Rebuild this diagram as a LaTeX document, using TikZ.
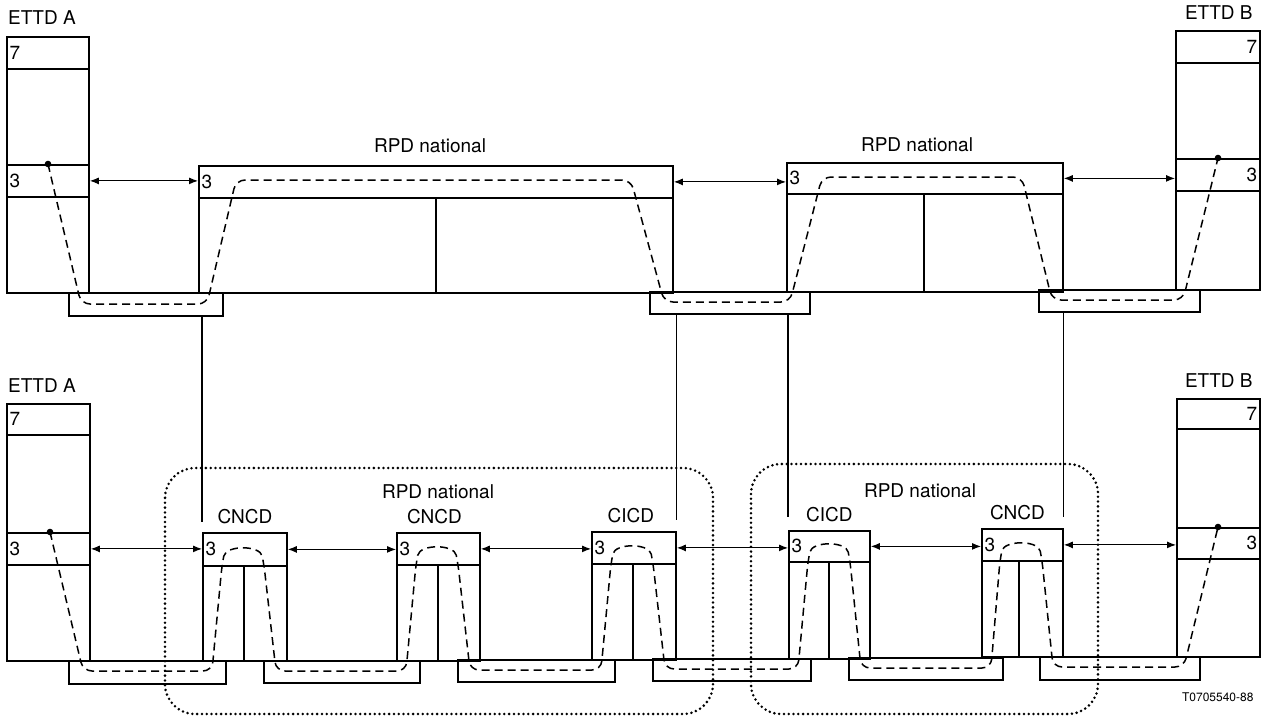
\documentclass[tikz,border=0pt]{standalone}
\usepackage{fontspec}
\setmainfont{TeX Gyre Heros}
\usetikzlibrary{arrows.meta}
\newcommand\lblsize{\fontsize{19}{21}\selectfont}

\begin{document}
\begin{tikzpicture}[x=1pt,y=-1pt,
  layer/.style={draw, line width=1.8pt, inner sep=0pt, anchor=north west},
  num/.style={font=\lblsize},
  tag/.style={font=\lblsize, inner sep=0pt},
  arr/.style={<->, >={Latex[length=9pt,width=7pt]}, line width=1.1pt},
  trail/.style={line width=1.5pt, dash pattern=on 8pt off 5pt, rounded corners=9pt},
  zone/.style={line width=2.8pt, line cap=round, dash pattern=on 0pt off 4.8pt, rounded corners=30pt},
  riser/.style={line width=1.1pt}]
\useasboundingbox (0,0) rectangle (1261,720);

% upper chain: ETTD A - RPD - RPD - ETTD B
\node[layer, minimum width=82pt, minimum height=256pt] (tA) at (6,36) {};
\node[layer, minimum width=82pt, minimum height=32pt, label={[num,anchor=west]west:7}] (tA7) at (6,36) {};
\node[layer, minimum width=82pt, minimum height=32pt, label={[num,anchor=west]west:3}] (tA3) at (6,164) {};
\node[tag, anchor=south west] (tAtag) at ([xshift=2pt,yshift=11pt]tA.north west) {ETTD A};

\node[layer, minimum width=474pt, minimum height=127pt] (tR1) at (198,165) {};
\node[layer, minimum width=474pt, minimum height=32pt, label={[num,anchor=west]west:3}] (tR1h) at (198,165) {};
\draw[line width=1.6pt] ([xshift=238pt]tR1h.south west) -- ([xshift=238pt]tR1.south west);
\node[tag] (tR1tag) at (430,146) {RPD national};

\node[layer, minimum width=276pt, minimum height=129pt] (tR2) at (786,162) {};
\node[layer, minimum width=276pt, minimum height=31pt, label={[num,anchor=west]west:3}] (tR2h) at (786,162) {};
\draw[line width=1.6pt] ([xshift=138pt]tR2h.south west) -- ([xshift=138pt]tR2.south west);
\node[tag] (tR2tag) at (917,145) {RPD national};

\node[layer, minimum width=84pt, minimum height=259pt] (tB) at (1175,30) {};
\node[layer, minimum width=84pt, minimum height=32pt, label={[num,anchor=east]east:7}] (tB7) at (1175,30) {};
\node[layer, minimum width=84pt, minimum height=32pt, label={[num,anchor=east]east:3}] (tB3) at (1175,158) {};
\node[tag, anchor=south east] (tBtag) at ([xshift=-8pt,yshift=10pt]tB.north east) {ETTD B};

% upper links
\node[layer, minimum width=154pt, minimum height=23pt] (tL1) at (68,292) {};
\node[layer, minimum width=160pt, minimum height=22pt] (tL2) at (649,291) {};
\node[layer, minimum width=161pt, minimum height=22pt] (tL3) at (1038,289) {};

\draw[arr] (tA3.east) -- (tA3.east -| tR1h.west);
\draw[arr] (tR1h.east) -- (tR1h.east -| tR2h.west);
\draw[arr] (tR2h.east) -- (tR2h.east -| tB3.west);

\coordinate (tAdot) at ([xshift=42pt]tA3.north west);
\coordinate (tBdot) at ([xshift=43pt]tB3.north west);
\fill (tAdot) circle (3.3pt);
\fill (tBdot) circle (3.3pt);
\draw[trail] (tAdot) -- (81,304) -- (207,304) -- (236,180) -- (631,180) -- (664,302)
  -- (790,302) -- (822,177) -- (1022,177) -- (1052,300) -- (1183,300) -- (tBdot);

% lower chain: ETTD A - CNCD - CNCD - CICD | CICD - CNCD - ETTD B
\node[layer, minimum width=83pt, minimum height=257pt] (bA) at (6,403) {};
\node[layer, minimum width=83pt, minimum height=31pt, label={[num,anchor=west]west:7}] (bA7) at (6,403) {};
\node[layer, minimum width=83pt, minimum height=32pt, label={[num,anchor=west]west:3}] (bA3) at (6,532) {};
\node[tag, anchor=south west] (bAtag) at ([xshift=2pt,yshift=10pt]bA.north west) {ETTD A};

\node[layer, minimum width=84pt, minimum height=128pt] (c1) at (202,532) {};
\node[layer, minimum width=84pt, minimum height=33pt, label={[num,anchor=west]west:3}] (c1h) at (202,532) {};
\draw[line width=1.6pt] ([xshift=42pt]c1h.south west) -- ([xshift=42pt]c1.south west);
\node[tag, anchor=south] (c1tag) at ([yshift=8pt]c1h.north) {CNCD};

\node[layer, minimum width=83pt, minimum height=128pt] (c2) at (396,532) {};
\node[layer, minimum width=83pt, minimum height=32pt, label={[num,anchor=west]west:3}] (c2h) at (396,532) {};
\draw[line width=1.6pt] ([xshift=42pt]c2h.south west) -- ([xshift=42pt]c2.south west);
\node[tag, anchor=south] (c2tag) at ([xshift=-4pt,yshift=8pt]c2h.north) {CNCD};

\node[layer, minimum width=84pt, minimum height=128pt] (k1) at (591,531) {};
\node[layer, minimum width=84pt, minimum height=32pt, label={[num,anchor=west]west:3}] (k1h) at (591,531) {};
\draw[line width=1.6pt] ([xshift=42pt]k1h.south west) -- ([xshift=42pt]k1.south west);
\node[tag, anchor=south] (k1tag) at ([xshift=-3pt,yshift=8pt]k1h.north) {CICD};

\node[layer, minimum width=81pt, minimum height=128pt] (k2) at (788,530) {};
\node[layer, minimum width=81pt, minimum height=31pt, label={[num,anchor=west]west:3}] (k2h) at (788,530) {};
\draw[line width=1.6pt] ([xshift=41pt]k2h.south west) -- ([xshift=41pt]k2.south west);
\node[tag, anchor=south] (k2tag) at ([yshift=8pt]k2h.north) {CICD};

\node[layer, minimum width=81pt, minimum height=128pt] (c3) at (981,528) {};
\node[layer, minimum width=81pt, minimum height=32pt, label={[num,anchor=west]west:3}] (c3h) at (981,528) {};
\draw[line width=1.6pt] ([xshift=38pt]c3h.south west) -- ([xshift=38pt]c3.south west);
\node[tag, anchor=south] (c3tag) at ([xshift=-5pt,yshift=8pt]c3h.north) {CNCD};

\node[layer, minimum width=83pt, minimum height=258pt] (bB) at (1176,398) {};
\node[layer, minimum width=83pt, minimum height=30pt, label={[num,anchor=east]east:7}] (bB7) at (1176,398) {};
\node[layer, minimum width=83pt, minimum height=31pt, label={[num,anchor=east]east:3}] (bB3) at (1176,527) {};
\node[tag, anchor=south east] (bBtag) at ([xshift=-8pt,yshift=10pt]bB.north east) {ETTD B};

% lower links
\node[layer, minimum width=157pt, minimum height=23pt] (bL1) at (68,660) {};
\node[layer, minimum width=156pt, minimum height=22pt] (bL2) at (263,660) {};
\node[layer, minimum width=157pt, minimum height=22pt] (bL3) at (457,659) {};
\node[layer, minimum width=158pt, minimum height=22pt] (bL4) at (652,658) {};
\node[layer, minimum width=154pt, minimum height=22pt] (bL5) at (848,657) {};
\node[layer, minimum width=160pt, minimum height=23pt] (bL6) at (1039,656) {};

\draw[arr] (bA3.east) -- (bA3.east -| c1h.west);
\draw[arr] (c1h.east) -- (c1h.east -| c2h.west);
\draw[arr] (c2h.east) -- (c2h.east -| k1h.west);
\draw[arr] (k1h.east) -- (k1h.east -| k2h.west);
\draw[arr] (k2h.east) -- (k2h.east -| c3h.west);
\draw[arr] (c3h.east) -- (c3h.east -| bB3.west);

\coordinate (bAdot) at ([xshift=44pt]bA3.north west);
\coordinate (bBdot) at ([xshift=42pt]bB3.north west);
\fill (bAdot) circle (3.3pt);
\fill (bBdot) circle (3.3pt);
\draw[trail] (bAdot) -- (83,671) -- (212,671) -- (222,565) .. controls (226,545) and (260,545) .. (264,565)
  -- (276,671) -- (406,671) -- (416,564) .. controls (420,544) and (454,544) .. (458,564)
  -- (470,670) -- (601,670) -- (611,563) .. controls (615,543) and (649,543) .. (653,563)
  -- (665,669) -- (798,669) -- (808,561) .. controls (812,541) and (846,541) .. (850,561)
  -- (861,668) -- (991,668) -- (1000,560) .. controls (1004,540) and (1038,540) .. (1042,560)
  -- (1053,667) -- (1184,667) -- (bBdot);

% national networks
\draw[zone] (165,468) rectangle (713,714);
\draw[zone] (751,464) rectangle (1098,714);
\node[tag] (z1tag) at (438,492) {RPD national};
\node[tag] (z2tag) at (920,491) {RPD national};

% links between the two views
\draw[riser] (tL1.south -| c1.west) -- ([yshift=10pt]c1.north west);
\draw[riser] (tL2.south -| k1.east) -- ([yshift=11pt]k1.north east);
\draw[riser] (tL2.south -| k2.west) -- ([yshift=13pt]k2.north west);
\draw[riser] (tL3.south -| c3.east) -- ([yshift=11pt]c3.north east);

\node[font=\fontsize{12}{13}\selectfont, anchor=east] (ref) at (1257,697) {T0705540-88};
\end{tikzpicture}
\end{document}
